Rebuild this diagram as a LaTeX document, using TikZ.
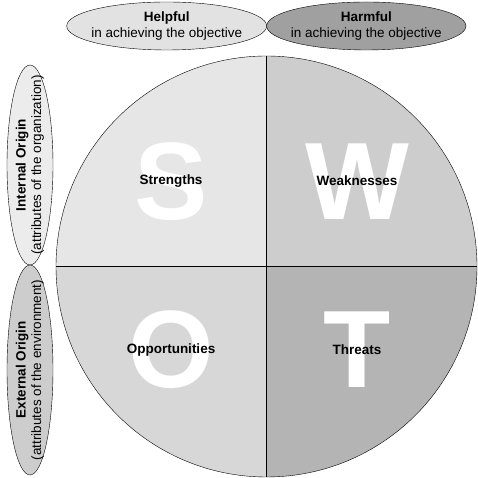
\documentclass[tikz,border=0pt]{standalone}
\usepackage{fontspec}
\setmainfont{Liberation Sans}
\usepackage{tikz}
\usetikzlibrary{shapes.geometric,positioning,calc}
\definecolor{StrengthGray}{RGB}{230,230,230}
\definecolor{WeakGray}{RGB}{205,205,205}
\definecolor{OppGray}{RGB}{215,215,215}
\definecolor{ThreatGray}{RGB}{180,180,180}
\definecolor{HelpGray}{RGB}{226,226,226}
\definecolor{HarmGray}{RGB}{160,160,160}
\definecolor{InnerGray}{RGB}{236,236,236}
\definecolor{OuterGray}{RGB}{205,205,205}

\begin{document}
\begin{tikzpicture}[x=1pt,y=1pt,
    oval/.style={ellipse,draw,thin,inner sep=0pt},
    ovaltext/.style={inner sep=0pt,align=center,
      font=\fontsize{13.5}{15.5}\selectfont},
    bigletter/.style={text=white,font=\fontsize{110}{110}\selectfont\bfseries},
    quadlabel/.style={font=\fontsize{13.5}{15.5}\selectfont\bfseries}]
      \useasboundingbox (0,0) rectangle (478,478);
      \coordinate (c) at (266.5,211.5);
      % quadrants
      \fill[StrengthGray] (c) -- ++(0,210.5) arc (90:180:210.5) -- cycle;
      \fill[WeakGray] (c) -- ++(210.5,0) arc (0:90:210.5) -- cycle;
      \fill[OppGray] (c) -- ++(-210.5,0) arc (180:270:210.5) -- cycle;
      \fill[ThreatGray] (c) -- ++(0,-210.5) arc (270:360:210.5) -- cycle;
      \draw[thin] (c) circle (210.5);
      \draw[thin] ($(c)+(0,210.5)$) -- ($(c)+(0,-210.5)$);
      \draw[thin] ($(c)+(-210.5,0)$) -- ($(c)+(210.5,0)$);
      % big letters
      \node[bigletter] (S) at (171,296.3) {S};
      \node[bigletter] (W) at (357,296.3) {W};
      \node[bigletter] (O) at (171,128) {O};
      \node[bigletter] (T) at (357,128) {T};
      \node[quadlabel] (strengths) at (171,297.3) {Strengths};
      \node[quadlabel] (weaknesses) at (357,297.3) {Weaknesses};
      \node[quadlabel] (opportunities) at (171,128) {Opportunities};
      \node[quadlabel] (threats) at (357,128) {Threats};
      % axis ovals
      \node[oval,fill=HelpGray,minimum width=200,minimum height=48]
        (helpful) at (166.7,452) {};
      \node[ovaltext] at (helpful) {\textbf{Helpful}\\in achieving the objective};
      \node[oval,fill=HarmGray,minimum width=199.3,minimum height=48]
        (harmful) at (366.3,452) {};
      \node[ovaltext] at (harmful) {\textbf{Harmful}\\in achieving the objective};
      \node[oval,fill=InnerGray,minimum width=46,minimum height=200]
        (internal) at (30,313) {};
      \node[ovaltext,rotate=90] at (internal)
        {\textbf{Internal Origin}\\(attributes of the organization)};
      \node[oval,fill=OuterGray,minimum width=46,minimum height=210]
        (external) at (30,108) {};
      \node[ovaltext,rotate=90] at (external)
        {\textbf{External Origin}\\(attributes of the environment)};
    \end{tikzpicture}
\end{document}
